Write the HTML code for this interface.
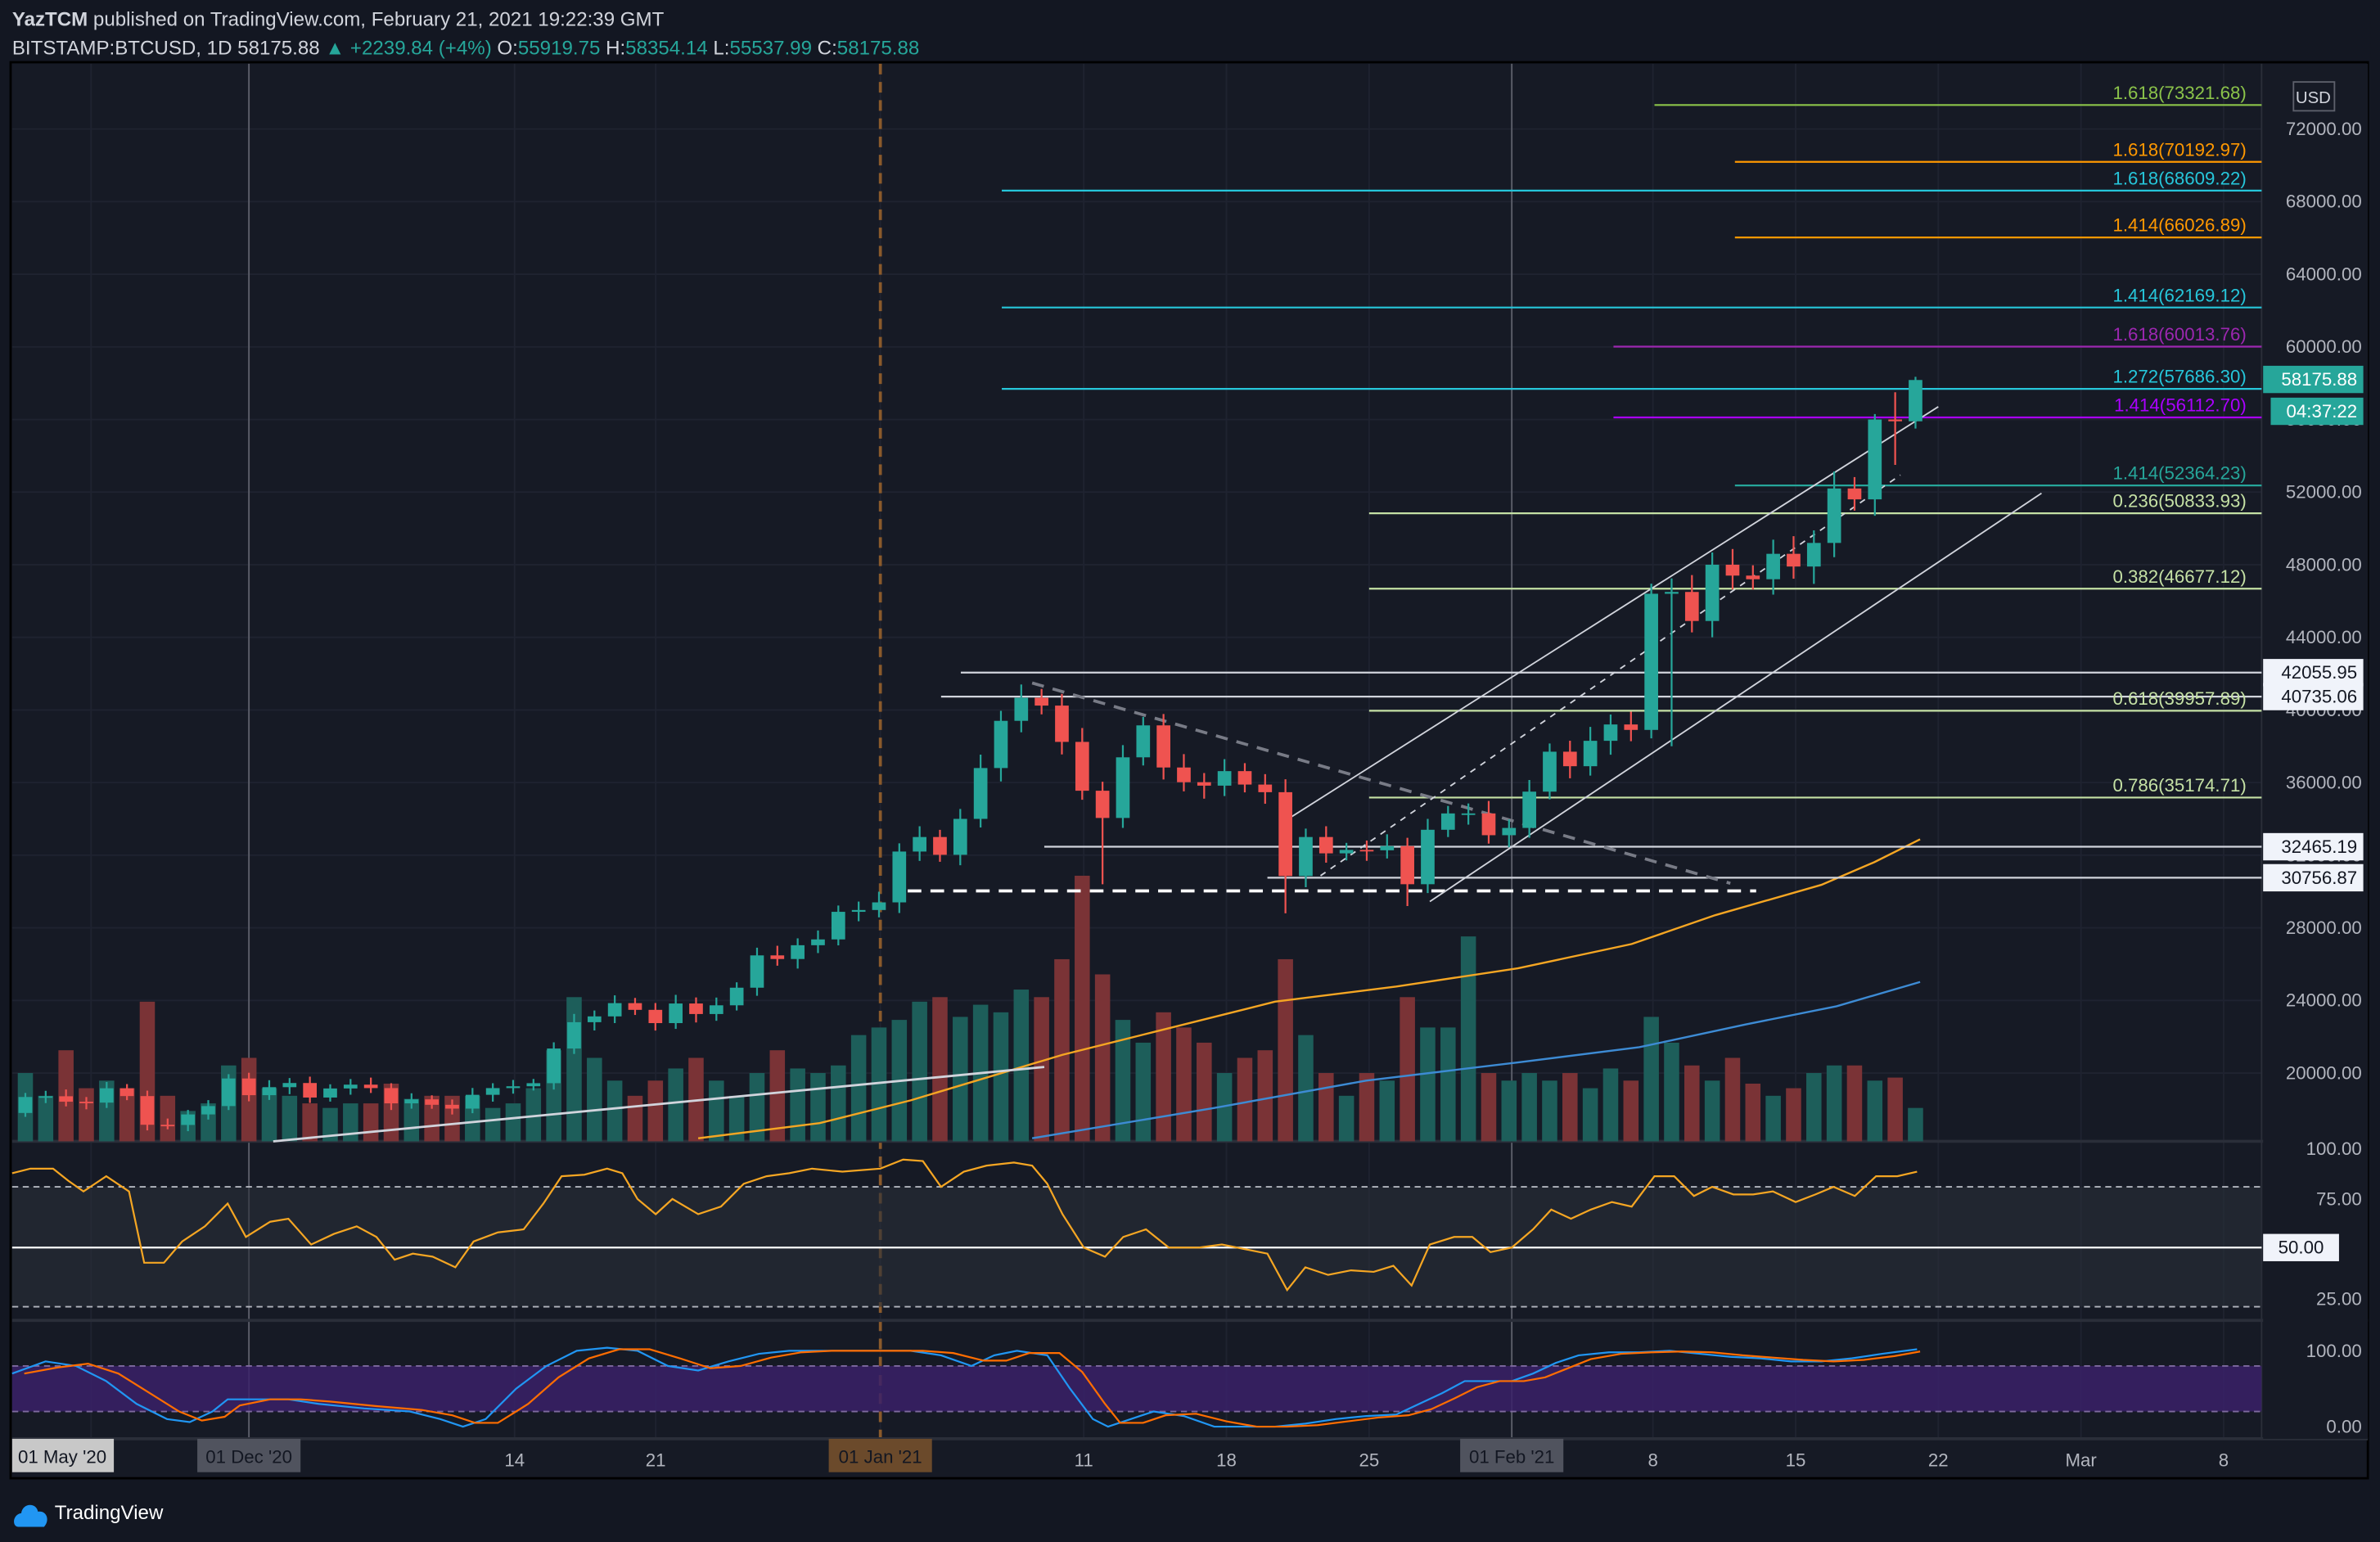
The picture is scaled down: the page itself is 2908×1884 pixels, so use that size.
<!DOCTYPE html>
<html><head><meta charset="utf-8">
<style>
html,body{margin:0;padding:0;background:#131722;}
svg{display:block;font-family:"Liberation Sans",sans-serif;}
</style></head>
<body>
<svg id="c" width="2908" height="1884" viewBox="0 0 1568 1016" preserveAspectRatio="none" xmlns="http://www.w3.org/2000/svg">
<rect x="0" y="0" width="1568" height="1016" fill="#131722"/>
<rect x="7" y="41" width="1553" height="933" fill="#161a25" stroke="#000" stroke-width="1.5"/>
<text x="8" y="17" fill="#d1d4dc" font-size="13" font-weight="bold">YazTCM <tspan font-weight="normal">published on TradingView.com, February 21, 2021 19:22:39 GMT</tspan></text>
<text x="8" y="36" fill="#d1d4dc" font-size="13">BITSTAMP:BTCUSD, 1D  58175.88 <tspan fill="#26a69a">▲ +2239.84 (+4%)</tspan> O:<tspan fill="#26a69a">55919.75</tspan> H:<tspan fill="#26a69a">58354.14</tspan> L:<tspan fill="#26a69a">55537.99</tspan> C:<tspan fill="#26a69a">58175.88</tspan></text>
<g id="g"></g>
<g id="lbl" font-size="12"></g>
<g transform="translate(10,988)">
<path d="M2,18 C-2,18 -2,10 4,9 C5,2 14,2 15,8 C21,7 23,14 19,18 Z" fill="#2196f3"/>
<text x="26" y="13" fill="#fff" font-size="13">TradingView</text>
</g>
</svg>
<script>
const NS="http://www.w3.org/2000/svg";
const g=document.getElementById('g'), L=document.getElementById('lbl');
function el(tag,a,p){const e=document.createElementNS(NS,tag);for(const k in a)e.setAttribute(k,a[k]);(p||g).appendChild(e);return e;}
function txt(x,y,s,fill,p,anchor,size){const t=el('text',{x,y,fill,'font-size':size||12,'text-anchor':anchor||'start'},p||L);t.textContent=s;return t;}
const Y=p=>707-(p-20000)*0.0119615;
const X=d=>164+13.39*d;
// grid lines
for(let p=20000;p<=72000;p+=4000){el('line',{x1:8,x2:1490,y1:Y(p),y2:Y(p),stroke:'#1f2330','stroke-width':1});}
[339,432,580,714,808,902,996,1089,1183,1277,1371,1465,164,60].forEach(x=>el('line',{x1:x,x2:x,y1:42,y2:948,stroke:'#1f2330','stroke-width':1}));
el('line',{x1:164,x2:164,y1:42,y2:948,stroke:'#5d606b','stroke-width':1});
el('line',{x1:996,x2:996,y1:42,y2:948,stroke:'#5d606b','stroke-width':1});
el('line',{x1:580,x2:580,y1:42,y2:948,stroke:'#8a5a2b','stroke-width':2,'stroke-dasharray':'7,5'});
// pane separators
el('line',{x1:8,x2:1560,y1:752,y2:752,stroke:'#2a2e39','stroke-width':2});
el('line',{x1:8,x2:1560,y1:870,y2:870,stroke:'#2a2e39','stroke-width':2});
el('line',{x1:8,x2:1560,y1:948,y2:948,stroke:'#2a2e39','stroke-width':2});
el('line',{x1:1490,x2:1490,y1:42,y2:948,stroke:'#2a2e39','stroke-width':1});
// data
const closes=[18680,18720,18420,18370,19160,18730,17150,17140,17720,18180,19700,
18780,19220,19450,18650,19150,19360,19170,18330,18550,18250,18040,18800,19170,19270,19440,21350,22800,23120,23850,23480,22750,23830,23250,23730,24700,26480,26280,27040,27360,28880,28980,
29400,32200,33000,32020,34000,36800,39400,40670,40240,38240,35550,34050,37390,39150,36830,36020,35830,36630,35890,35470,30850,33000,32100,32290,32270,32500,30400,33400,34300,34300,33100,
33500,35500,37700,36900,38300,39200,38900,46400,46500,44900,48000,47400,47200,48600,47900,49200,52200,51600,56000,55900,58175];
const vols=[45,30,60,35,40,35,92,30,20,25,50,
55,35,30,25,22,25,25,38,28,30,30,30,22,25,35,60,95,55,40,30,40,48,55,40,30,45,60,48,45,50,70,
75,80,92,95,82,90,85,100,95,120,175,110,80,65,85,75,65,45,55,60,120,70,45,30,45,40,95,75,75,135,45,
40,45,40,45,35,48,40,82,65,50,40,55,38,30,35,45,50,50,40,42,22];
const spec={53:[null,30400],62:[null,28800],68:[null,29200],93:[58350,55500],92:[57500,53500],91:[56300,50700],81:[null,38000]};
let prev=17800;
const cand=[];
for(let i=0;i<closes.length;i++){
 const d=i-11,o=prev,c=closes[i];
 let h=Math.max(o,c)*(1+0.012+0.01*((i*7)%5)/5), l=Math.min(o,c)*(1-0.012-0.01*((i*3)%5)/5);
 if(spec[i]){if(spec[i][0])h=spec[i][0];if(spec[i][1])l=spec[i][1];}
 cand.push({x:X(d),o,c,h,l});
 const up=c>=o;
 el('rect',{x:X(d)-5,y:752-vols[i],width:10,height:vols[i],fill:up?'#1d5e5a':'#7a3336'});
 prev=c;
}
// MAs
el('polyline',{points:'460,750 540,740 600,725 650,710 700,695 760,680 840,660 920,650 1000,638 1075,622 1130,603 1200,583 1235,568 1265,553',fill:'none',stroke:'#f5a623','stroke-width':1.3});
el('polyline',{points:'680,750 800,730 900,712 1000,700 1080,690 1150,675 1210,663 1265,647',fill:'none',stroke:'#3d8bd4','stroke-width':1.3});
// horizontal levels
const lv=[[73321.68,1090,'#8bc34a','1.618(73321.68)'],[70192.97,1143,'#ff9800','1.618(70192.97)'],[68609.22,660,'#26c6da','1.618(68609.22)'],
[66026.89,1143,'#ff9800','1.414(66026.89)'],[62169.12,660,'#26c6da','1.414(62169.12)'],[60013.76,1063,'#9c27b0','1.618(60013.76)'],
[57686.30,660,'#26c6da','1.272(57686.30)'],[56112.70,1063,'#aa00ff','1.414(56112.70)'],[52364.23,1143,'#26a69a','1.414(52364.23)'],
[50833.93,902,'#c5e1a5','0.236(50833.93)'],[46677.12,902,'#c5e1a5','0.382(46677.12)'],[39957.89,902,'#c5e1a5','0.618(39957.89)'],[35174.71,902,'#c5e1a5','0.786(35174.71)']];
lv.forEach(a=>{const y=Y(a[0]);el('line',{x1:a[1],x2:1490,y1:y,y2:y,stroke:a[2],'stroke-width':1.2});txt(1480,y-4,a[3],a[2],L,'end',12);});
const wl=[[42055.95,633],[40735.06,620],[32465.19,688],[30756.87,835]];
wl.forEach(a=>{const y=Y(a[0]);el('line',{x1:a[1],x2:1490,y1:y,y2:y,stroke:'#d1d4dc','stroke-width':1.2});});
el('line',{x1:598,x2:1157,y1:587,y2:587,stroke:'#fff','stroke-width':2,'stroke-dasharray':'9,6'});
// trendlines
el('line',{x1:680,y1:450,x2:1140,y2:582,stroke:'#787b86','stroke-width':2,'stroke-dasharray':'8,6'});
el('line',{x1:848,y1:540,x2:1277,y2:268,stroke:'#d1d4dc','stroke-width':1});
el('line',{x1:870,y1:577,x2:1252,y2:313,stroke:'#d1d4dc','stroke-width':1,'stroke-dasharray':'4,4'});
el('line',{x1:942,y1:594,x2:1345,y2:325,stroke:'#d1d4dc','stroke-width':1});
el('line',{x1:180,y1:752,x2:688,y2:703,stroke:'#d1d4dc','stroke-width':1.5});
// candles
cand.forEach(k=>{const up=k.c>=k.o,col=up?'#26a69a':'#ef5350';
 el('line',{x1:k.x,x2:k.x,y1:Y(k.h),y2:Y(k.l),stroke:col,'stroke-width':1.2});
 const t=Y(Math.max(k.o,k.c)),b=Y(Math.min(k.o,k.c));
 el('rect',{x:k.x-4.5,y:t,width:9,height:Math.max(1,b-t),fill:col});});
// price axis
el('rect',{x:1491,y:42,width:69,height:906,fill:'#161a25'},L);
for(let p=20000;p<=72000;p+=4000){txt(1556,Y(p)+4,p.toFixed(2),'#b2b5be',L,'end',12);}
txt(1524,68,'USD','#d1d4dc',L,'middle',11);
el('rect',{x:1511,y:54,width:27,height:19,fill:'none',stroke:'#5d606b'},L);
wl.forEach(a=>{const y=Y(a[0]);el('rect',{x:1491,y:y-9,width:66,height:18,fill:'#f0f3fa'},L);txt(1553,y+4,a[0].toFixed(2),'#131722',L,'end',12);});
el('rect',{x:1491,y:241,width:66,height:18,fill:'#26a69a'},L);txt(1553,254,'58175.88','#fff',L,'end',12);
el('rect',{x:1496,y:262,width:61,height:18,fill:'#26a69a'},L);txt(1553,275,'04:37:22','#fff',L,'end',12);
// RSI pane
el('rect',{x:8,y:782,width:1482,height:79,fill:'#2a2e39',opacity:0.6});
el('line',{x1:8,x2:1490,y1:782,y2:782,stroke:'#b2b5be','stroke-dasharray':'4,3'});
el('line',{x1:8,x2:1490,y1:861,y2:861,stroke:'#b2b5be','stroke-dasharray':'4,3'});
el('line',{x1:8,x2:1490,y1:822,y2:822,stroke:'#fff','stroke-width':1.2});
el('polyline',{points:'8,773 20,770 35,770 45,778 55,785 70,775 85,785 95,832 108,832 120,818 135,808 150,793 162,815 178,805 190,803 205,820 220,813 235,808 248,815 260,830 272,826 285,828 300,835 312,818 328,812 345,810 358,793 370,775 385,774 400,770 410,773 420,790 432,800 443,790 460,800 475,795 490,780 505,775 520,773 535,770 555,772 580,770 595,764 608,765 620,782 635,772 650,768 668,766 680,768 690,780 700,800 714,822 728,828 740,815 755,810 770,822 790,822 805,820 820,823 835,826 848,850 860,835 875,840 890,837 905,838 918,834 930,847 942,820 958,815 970,815 982,825 996,822 1010,810 1022,797 1035,803 1048,797 1062,792 1075,795 1090,775 1103,775 1116,788 1128,782 1142,787 1155,787 1168,785 1183,792 1196,787 1208,782 1222,788 1236,775 1250,775 1263,772',fill:'none',stroke:'#f5a623','stroke-width':1.2});
[[100,757],[75,790],[25,856]].forEach(a=>txt(1556,a[1]+4,a[0].toFixed(2),'#b2b5be',L,'end',12));
el('rect',{x:1491,y:813,width:50,height:18,fill:'#f0f3fa'},L);txt(1531,826,'50.00','#131722',L,'end',12);
// Stoch pane
el('rect',{x:8,y:900,width:1482,height:30,fill:'#3a2169',opacity:0.85});
el('line',{x1:8,x2:1490,y1:900,y2:900,stroke:'#7e6a9e','stroke-dasharray':'4,3'});
el('line',{x1:8,x2:1490,y1:930,y2:930,stroke:'#7e6a9e','stroke-dasharray':'4,3'});
const bl=[[8,905],[30,897],[50,900],[70,910],[90,925],[110,935],[125,937],[140,930],[150,922],[170,922],[190,922],[210,925],[240,928],[270,930],[290,935],[305,940],[320,935],[340,915],[360,900],[380,890],[400,888],[420,890],[440,900],[460,903],[480,897],[500,892],[520,890],[540,890],[560,890],[580,890],[600,890],[620,893],[640,900],[655,893],[670,890],[690,893],[705,915],[720,935],[730,940],[745,935],[760,930],[780,933],[800,940],[820,940],[840,940],[860,938],[880,935],[900,933],[920,932],[935,925],[950,918],[965,910],[980,910],[996,910],[1010,905],[1025,898],[1040,893],[1060,891],[1080,891],[1100,890],[1120,892],[1140,894],[1160,895],[1180,897],[1200,897],[1220,895],[1240,892],[1263,889]];
el('polyline',{points:bl.map(p=>p.join(',')).join(' '),fill:'none',stroke:'#2196f3','stroke-width':1.2});
el('polyline',{points:bl.map((p,i)=>[Math.min(p[0]+8,1265),(p[1]+(bl[Math.max(0,i-1)][1]))/2].join(',')).join(' '),fill:'none',stroke:'#ff6d00','stroke-width':1.2});
txt(1556,894,'100.00','#b2b5be',L,'end',12);txt(1556,944,'0.00','#b2b5be',L,'end',12);
// time axis
[[339,'14'],[432,'21'],[714,'11'],[808,'18'],[902,'25'],[1089,'8'],[1183,'15'],[1277,'22'],[1371,'Mar'],[1465,'8']].forEach(a=>txt(a[0],966,a[1],'#b2b5be',L,'middle',12));
el('rect',{x:8,y:948,width:67,height:22,fill:'#c8c8c8'},L);txt(41,964,"01 May '20",'#131722',L,'middle',12);
el('rect',{x:130,y:948,width:68,height:22,fill:'#50535e'},L);txt(164,964,"01 Dec '20",'#131722',L,'middle',12);
el('rect',{x:546,y:948,width:68,height:22,fill:'#6b4a2b'},L);txt(580,964,"01 Jan '21",'#131722',L,'middle',12);
el('rect',{x:962,y:948,width:68,height:22,fill:'#50535e'},L);txt(996,964,"01 Feb '21",'#131722',L,'middle',12);
</script>
</body></html>
